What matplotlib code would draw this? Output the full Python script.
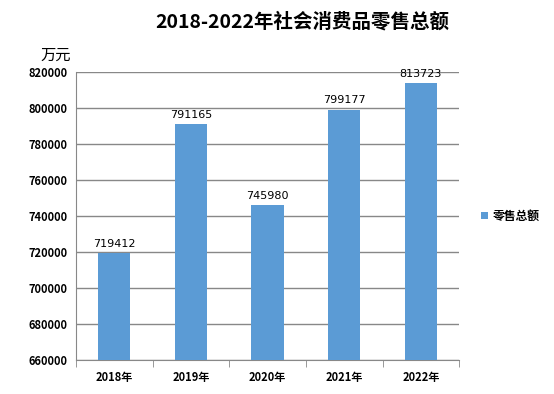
import matplotlib.pyplot as plt
import numpy as np

plt.rcParams['font.family'] = ['Noto Sans CJK SC', 'DejaVu Sans']

years = ['2018年', '2019年', '2020年', '2021年', '2022年']
sales = [719412, 791165, 745980, 799177, 813723]
yticks = [660000, 680000, 700000, 720000, 740000, 760000, 780000, 800000, 820000]

fig = plt.figure(figsize=(5.54, 3.94), dpi=100)
ax = fig.add_axes([0.137, 0.086, 0.692, 0.731])

x = np.arange(len(years))
bars = ax.bar(x, sales, width=0.42, color='#5B9BD5', label='零售总额', zorder=3)
for xi, v in zip(x, sales):
    ax.text(xi, v + 2500, str(v), ha='center', va='bottom', fontsize=8,
            family=['DejaVu Sans'])

ax.set_ylim(660000, 820000)
ax.set_xlim(-0.5, len(years) - 0.5)
ax.set_yticks(yticks)
ax.set_yticklabels([str(t) for t in yticks], fontsize=8, fontweight='bold')
ax.yaxis.grid(True, color='#888888', linewidth=1)
ax.tick_params(axis='y', length=0, pad=6)

ax.set_xticks(x)
ax.set_xticklabels(years, fontsize=8, fontweight='bold')
ax.set_xticks(np.arange(-0.5, len(years)), minor=True)
ax.tick_params(axis='x', which='major', length=0, pad=8)
ax.tick_params(axis='x', which='minor', length=5, color='#888888', direction='out')

for s in ['top', 'right']:
    ax.spines[s].set_visible(False)
ax.spines['left'].set_color('#888888')
ax.spines['bottom'].set_color('#888888')

fig.text(0.545, 0.945, '2018-2022年社会消费品零售总额', ha='center', va='center',
         fontsize=14, fontweight='bold')
fig.text(0.10, 0.86, '万元', ha='center', va='center', fontsize=11)

ax.legend(loc='center left', bbox_to_anchor=(1.03, 0.5), frameon=False,
          handlelength=0.6, handleheight=0.6, handletextpad=0.4,
          prop={'size': 8.5, 'weight': 'bold'})

fig.savefig('out.png', dpi=100)
